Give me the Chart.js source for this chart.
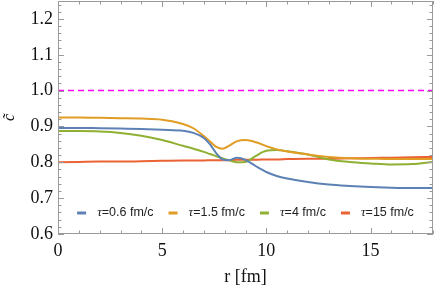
<!DOCTYPE html>
<html>
<head>
<meta charset="utf-8">
<script src="https://cdn.jsdelivr.net/npm/chart.js@4"></script>
<style>
  html, body { margin: 0; padding: 0; background: #fff; }
  canvas { display: block; }
</style>
</head>
<body>
<canvas id="myChart" width="436" height="290"></canvas>
<script>
// radius points (fm)
const rValues = [0, 1, 2, 3, 4, 5, 6, 6.5, 7, 7.3, 7.6, 7.9, 8.2, 8.6, 9, 9.5, 10, 10.5, 11, 12, 13, 14, 15, 16, 17, 18];

const cTau06 = [0.896, 0.896, 0.895, 0.894, 0.893, 0.891, 0.888, 0.882, 0.868, 0.850, 0.825, 0.808, 0.806, 0.813, 0.807, 0.789, 0.773, 0.762, 0.755, 0.745, 0.738, 0.734, 0.731, 0.729, 0.728, 0.728];
const cTau15 = [0.925, 0.925, 0.924, 0.923, 0.922, 0.919, 0.907, 0.895, 0.873, 0.858, 0.843, 0.838, 0.846, 0.859, 0.862, 0.856, 0.845, 0.836, 0.830, 0.822, 0.815, 0.811, 0.810, 0.809, 0.809, 0.809];
const cTau4  = [0.887, 0.887, 0.886, 0.882, 0.874, 0.862, 0.846, 0.838, 0.829, 0.823, 0.817, 0.811, 0.806, 0.800, 0.801, 0.818, 0.832, 0.834, 0.831, 0.822, 0.808, 0.801, 0.797, 0.794, 0.795, 0.801];
const cTau15b = [0.800, 0.801, 0.802, 0.802, 0.803, 0.804, 0.805, 0.805, 0.805, 0.806, 0.806, 0.806, 0.806, 0.807, 0.807, 0.807, 0.808, 0.808, 0.809, 0.810, 0.810, 0.811, 0.812, 0.813, 0.814, 0.815];

const refR = [0, 18];
const refC = [1.0, 1.0];

const xTicks = [0, 5, 10, 15];
const yTicks = [0.6, 0.7, 0.8, 0.9, 1.0, 1.1, 1.2];

const labels = ["=0.6 fm/c", "=1.5 fm/c", "=4 fm/c", "=15 fm/c"];
const colors = ["#5E81B5", "#E19C24", "#8FB032", "#EB6235"];

function pts(xs, ys) {
    let out = [];
    for (let i = 0; i < xs.length; i++) {
        out.push({ x: xs[i], y: ys[i] });
    }
    return out;
}

const series = [cTau06, cTau15, cTau4, cTau15b];
let datasets = [];
for (let i = 0; i < series.length; i++) {
    datasets.push({
        label: labels[i],
        data: pts(rValues, series[i]),
        borderColor: colors[i],
        borderWidth: 2,
        pointRadius: 0,
        cubicInterpolationMode: "monotone",
        fill: false,
    });
}
datasets.push({
    label: "ref",
    data: pts(refR, refC),
    borderColor: "#FF00FF",
    borderWidth: 1.5,
    borderDash: [6, 4],
    pointRadius: 0,
    fill: false,
});

// frame with inward ticks, Mathematica style
const framePlugin = {
    id: "frame",
    afterDraw(chart) {
        const c = chart.ctx;
        const a = chart.chartArea;
        const xs = chart.scales.x;
        const ys = chart.scales.y;
        c.save();
        c.strokeStyle = "#9a9a9a";
        c.lineWidth = 1;
        c.strokeRect(a.left + 0.5, a.top + 0.5, a.right - a.left - 1, a.bottom - a.top - 1);
        c.beginPath();
        for (let v = 0; v <= 18; v++) {
            const px = Math.round(xs.getPixelForValue(v)) + 0.5;
            const len = v % 5 === 0 ? 6 : 3.5;
            c.moveTo(px, a.bottom); c.lineTo(px, a.bottom - len);
            c.moveTo(px, a.top); c.lineTo(px, a.top + len);
        }
        for (let k = 30; k <= 62; k++) {
            const v = k / 50;
            const py = Math.round(ys.getPixelForValue(v)) + 0.5;
            const len = k % 5 === 0 ? 6 : 3.5;
            c.moveTo(a.left, py); c.lineTo(a.left + len, py);
            c.moveTo(a.right, py); c.lineTo(a.right - len, py);
        }
        c.stroke();
        c.restore();
    },
};

// legend inside the plot, near the bottom
const legendPlugin = {
    id: "innerLegend",
    afterDatasetsDraw(chart) {
        const c = chart.ctx;
        const a = chart.chartArea;
        const y = 213;
        const tauFont = "italic 13px 'Liberation Serif'";
        const txtFont = "12.5px 'Liberation Sans'";
        c.save();
        let widths = [];
        let total = 0;
        for (let i = 0; i < labels.length; i++) {
            c.font = tauFont;
            let w = c.measureText("τ").width;
            c.font = txtFont;
            w += c.measureText(labels[i]).width;
            widths.push(w);
            total += 9 + 11 + w;
        }
        total += 15 * (labels.length - 1);
        let x = (a.left + a.right) / 2 - total / 2;
        c.textBaseline = "middle";
        for (let i = 0; i < labels.length; i++) {
            c.strokeStyle = colors[i];
            c.lineWidth = 3;
            c.beginPath();
            c.moveTo(x, y); c.lineTo(x + 9, y);
            c.stroke();
            let tx = x + 20;
            c.fillStyle = "#222";
            c.font = tauFont;
            c.fillText("τ", tx, y);
            tx += c.measureText("τ").width;
            c.font = txtFont;
            c.fillText(labels[i], tx, y);
            x += 20 + widths[i] + 15;
        }
        c.restore();
    },
};

const ctx = document.getElementById("myChart");
new Chart(ctx, {
    type: "line",
    data: { datasets: datasets },
    options: {
        responsive: false,
        animation: false,
        devicePixelRatio: 1,
        layout: { padding: { left: 0, right: 3, top: 1, bottom: 0 } },
        plugins: {
            legend: { display: false },
            tooltip: { enabled: false },
        },
        scales: {
            x: {
                type: "linear",
                min: 0,
                max: 18,
                afterBuildTicks: (s) => { s.ticks = xTicks.map((v) => ({ value: v })); },
                afterFit: (s) => { s.height = 56; s.paddingLeft = 0; s.paddingRight = 0; },
                grid: { display: false, drawTicks: false },
                border: { display: false },
                ticks: {
                    color: "#111",
                    padding: 6,
                    maxRotation: 0,
                    font: { family: "'Liberation Serif'", size: 18 },
                },
                title: {
                    display: true,
                    text: "r [fm]",
                    color: "#111",
                    padding: { top: 0, bottom: 2 },
                    font: { family: "'Liberation Serif'", size: 18 },
                },
            },
            y: {
                min: 0.6,
                max: 1.25,
                afterBuildTicks: (s) => { s.ticks = yTicks.map((v) => ({ value: v })); },
                afterFit: (s) => { s.width = 58; s.paddingTop = 0; s.paddingBottom = 0; },
                grid: { display: false, drawTicks: false },
                border: { display: false },
                ticks: {
                    color: "#111",
                    padding: 5,
                    font: { family: "'Liberation Serif'", size: 18 },
                    callback: (v) => v.toFixed(1),
                },
                title: {
                    display: true,
                    text: "c\u0303",
                    color: "#111",
                    padding: { top: 0, bottom: 0 },
                    font: { family: "'Liberation Serif'", size: 16, style: "italic" },
                },
            },
        },
    },
    plugins: [framePlugin, legendPlugin],
});
</script>
</body>
</html>
